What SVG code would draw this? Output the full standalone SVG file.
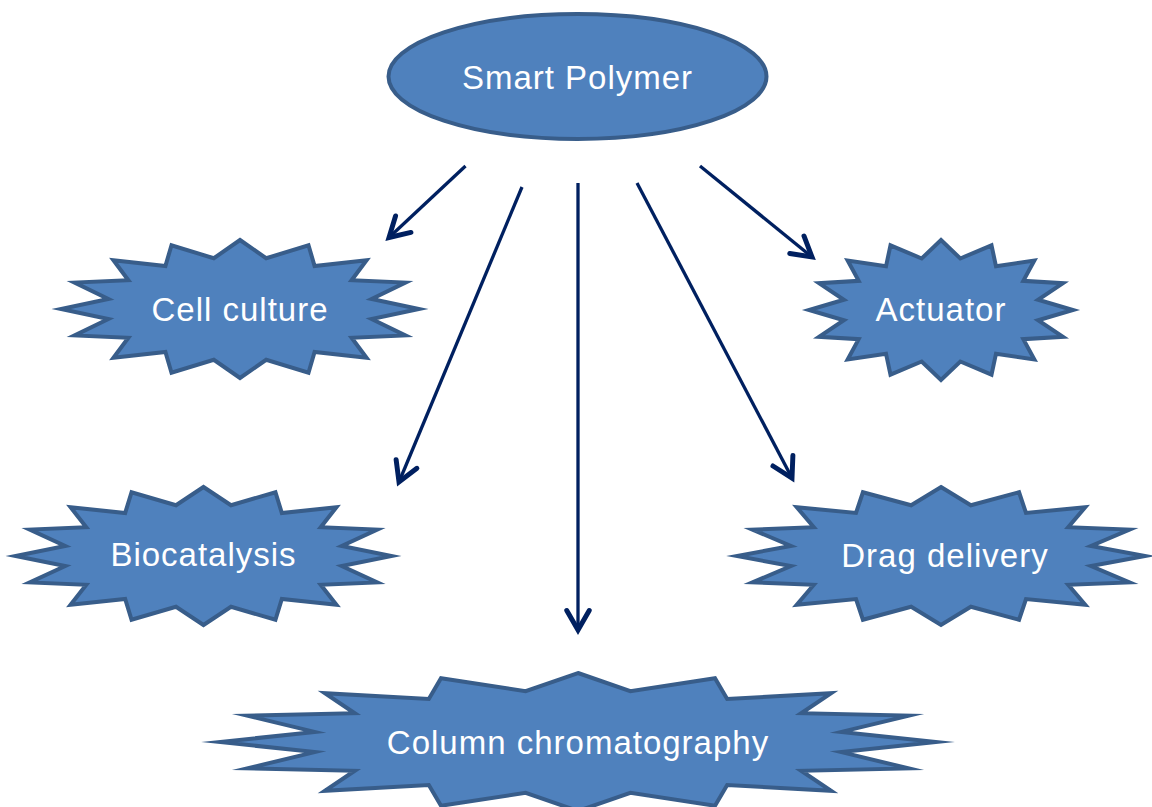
<svg xmlns="http://www.w3.org/2000/svg" xmlns:xlink="http://www.w3.org/1999/xlink" width="1152" height="807" viewBox="0 0 1152 807">
<style>
.shape{fill:#4F81BD;stroke:#385D8A;stroke-width:4;vector-effect:non-scaling-stroke;stroke-linejoin:miter;stroke-miterlimit:10}
.lbl{font-family:"Liberation Sans",Arial,sans-serif;font-size:33px;letter-spacing:1px;fill:#FFFFFF;text-anchor:middle}
.conn{stroke:#002060;stroke-width:3.3;fill:none}
</style>
<defs>
<path id="star16" class="shape" d="M0,-1 L0.14632,-0.73559 L0.38268,-0.92388 L0.41668,-0.6236 L0.70711,-0.70711 L0.6236,-0.41668 L0.92388,-0.38268 L0.73559,-0.14632 L1,0 L0.73559,0.14632 L0.92388,0.38268 L0.6236,0.41668 L0.70711,0.70711 L0.41668,0.6236 L0.38268,0.92388 L0.14632,0.73559 L0,1 L-0.14632,0.73559 L-0.38268,0.92388 L-0.41668,0.6236 L-0.70711,0.70711 L-0.6236,0.41668 L-0.92388,0.38268 L-0.73559,0.14632 L-1,0 L-0.73559,-0.14632 L-0.92388,-0.38268 L-0.6236,-0.41668 L-0.70711,-0.70711 L-0.41668,-0.6236 L-0.38268,-0.92388 L-0.14632,-0.73559 Z"/>
<marker id="arr" markerUnits="userSpaceOnUse" markerWidth="30" markerHeight="30" viewBox="-16 -10 20 20" refX="0" refY="0" orient="auto">
<path d="M-13,-7.5 L0,0 L-13,7.5" fill="none" stroke="#002060" stroke-width="3.3" stroke-linecap="round" stroke-linejoin="miter"/>
</marker>
</defs>
<g id="connectors">
<line class="conn" x1="465.5" y1="166" x2="389" y2="237.5" marker-end="url(#arr)"/>
<line class="conn" x1="522" y1="187" x2="399" y2="482" marker-end="url(#arr)"/>
<line class="conn" x1="578" y1="183" x2="578" y2="630" marker-end="url(#arr)"/>
<line class="conn" x1="637" y1="183" x2="792" y2="478" marker-end="url(#arr)"/>
<line class="conn" x1="700" y1="166" x2="812" y2="257" marker-end="url(#arr)"/>
</g>
<g id="smart-polymer">
<ellipse class="shape" cx="577.5" cy="76.5" rx="189" ry="62.5"/>
<text class="lbl" x="577.5" y="89">Smart Polymer</text>
</g>
<g id="cell-culture">
<use xlink:href="#star16" transform="translate(240,309) scale(179,69)"/>
<text class="lbl" x="240" y="321">Cell culture</text>
</g>
<g id="actuator">
<use xlink:href="#star16" transform="translate(941,310) scale(132,70)"/>
<text class="lbl" x="941" y="321">Actuator</text>
</g>
<g id="biocatalysis">
<use xlink:href="#star16" transform="translate(203.5,556) scale(188,69)"/>
<text class="lbl" x="203.5" y="566">Biocatalysis</text>
</g>
<g id="drag-delivery">
<use xlink:href="#star16" transform="translate(941,556) scale(204,69)"/>
<text class="lbl" x="945" y="567">Drag delivery</text>
</g>
<g id="column-chromatography">
<use xlink:href="#star16" transform="translate(578,742) scale(358,69)"/>
<text class="lbl" x="578" y="754">Column chromatography</text>
</g>
</svg>
